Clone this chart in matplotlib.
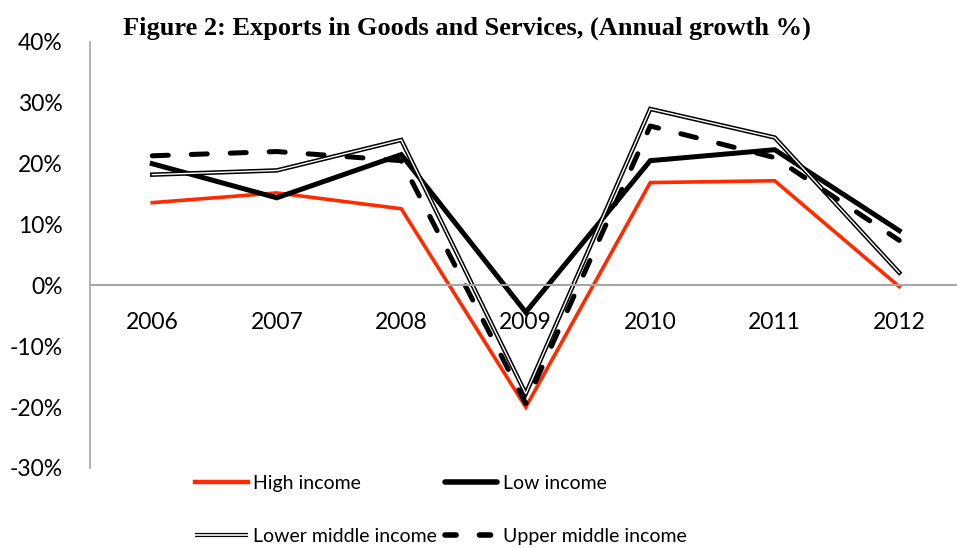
import matplotlib.pyplot as plt
from matplotlib.lines import Line2D
from matplotlib.legend_handler import HandlerTuple

# data (annual growth, %)
years = ["2006", "2007", "2008", "2009", "2010", "2011", "2012"]
high_income = [13.6, 15.2, 12.6, -20.0, 16.9, 17.2, -0.2]
low_income = [20.0, 14.4, 21.5, -4.4, 20.5, 22.3, 9.0]
lower_middle = [18.2, 18.9, 23.9, -17.8, 29.0, 24.3, 2.1]
upper_middle = [21.3, 22.0, 20.5, -19.4, 26.2, 21.0, 7.4]

plt.rcParams['font.family'] = ['Lato', 'DejaVu Sans']

fig = plt.figure(figsize=(9.57, 5.48), dpi=100)
ax = fig.add_axes([90 / 957, 1 - 468 / 548, 871.5 / 957, 426 / 548])

x = range(len(years))

ax.plot(x, high_income, color="#ff2a00", lw=2.6, solid_joinstyle="miter")
ax.plot(x, low_income, color="black", lw=3.6, solid_joinstyle="miter")
# double line: thick black with a thin white core
ax.plot(x, lower_middle, color="black", lw=3.2, solid_joinstyle="miter")
ax.plot(x, lower_middle, color="white", lw=1.0, solid_joinstyle="miter")
ax.plot(x, upper_middle, color="black", lw=3.6, dashes=(3.2, 4.6),
        dash_capstyle="round")

ax.set_xlim(-0.5, len(years) - 0.5)
ax.set_ylim(-30, 40)
ax.set_yticks(range(-30, 41, 10))
ax.set_yticklabels([f"{v}%" for v in range(-30, 41, 10)])
ax.set_xticks(list(x))
ax.set_xticklabels(years)

for s in ["top", "right"]:
    ax.spines[s].set_visible(False)
ax.spines["left"].set_color("#a6a6a6")
ax.spines["bottom"].set_color("#a6a6a6")
ax.spines["bottom"].set_position(("data", 0))
ax.spines["left"].set_linewidth(1.2)
ax.spines["bottom"].set_linewidth(1.5)
ax.tick_params(axis="both", length=0, labelsize=16.5)
ax.tick_params(axis="y", pad=19.5)
ax.tick_params(axis="x", pad=19)

fig.text(467 / 957, 1 - 28 / 548,
         "Figure 2: Exports in Goods and Services, (Annual growth %)",
         ha="center", va="center", fontsize=19, fontweight="bold",
         family="Liberation Serif")

# legend
h_high = Line2D([], [], color="#ff2a00", lw=3.2)
h_low = Line2D([], [], color="black", lw=4, solid_capstyle="round")
h_lm = (Line2D([], [], color="black", lw=3.0, solid_capstyle="butt"),
        Line2D([], [], color="white", lw=1.2, solid_capstyle="butt"))
h_um = Line2D([], [], color="black", lw=4, dashes=(2.0, 4.2),
              dash_capstyle="round")
fig.legend([h_high, h_lm, h_low, h_um],
           ["High income", "Lower middle income", "Low income", "Upper middle income"],
           handler_map={tuple: HandlerTuple(ndivide=1)},
           ncol=2, frameon=False, fontsize=14, loc="upper left",
           bbox_to_anchor=(195 / 957, 1 - 475 / 548),
           handlelength=2.7, handletextpad=0.3, columnspacing=0.4,
           labelspacing=1.85, borderaxespad=0, borderpad=0)

fig.savefig("out.png", dpi=100)
